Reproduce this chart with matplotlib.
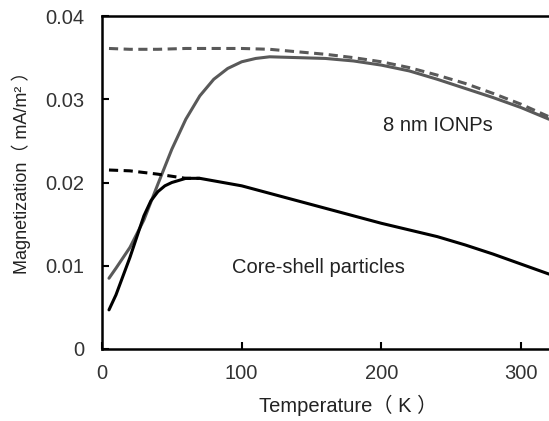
import matplotlib
matplotlib.use("Agg")
import matplotlib.pyplot as plt

plt.rcParams['font.family'] = ['Liberation Sans', 'Noto Sans CJK SC', 'DejaVu Sans']

# 8 nm IONPs, field cooled (dashed grey)
ionp_fc_T = [5, 20, 40, 60, 80, 100, 120, 140, 160, 180, 200, 220, 240, 260, 280, 300, 320]
ionp_fc_M = [0.0361, 0.0360, 0.0360, 0.0361, 0.0361, 0.0361, 0.0360, 0.0357, 0.0354, 0.0350,
             0.0345, 0.0338, 0.0329, 0.0319, 0.0307, 0.0294, 0.0279]
# 8 nm IONPs, zero field cooled (solid grey)
ionp_zfc_T = [5, 10, 20, 30, 40, 50, 60, 70, 80, 90, 100, 110, 120, 140, 160, 180, 200,
              220, 240, 260, 280, 300, 320]
ionp_zfc_M = [0.0085, 0.0097, 0.0122, 0.0155, 0.0198, 0.0240, 0.0276, 0.0304, 0.0324, 0.0337,
              0.0345, 0.0349, 0.0351, 0.0350, 0.0349, 0.0346, 0.0341, 0.0334, 0.0324, 0.0313,
              0.0302, 0.0290, 0.0276]
# Core-shell, field cooled (dashed black)
cs_fc_T = [5, 20, 40, 60, 70]
cs_fc_M = [0.0215, 0.0214, 0.0210, 0.0205, 0.0205]
# Core-shell, zero field cooled (solid black)
cs_zfc_T = [5, 10, 20, 30, 35, 40, 45, 50, 60, 70, 80, 100, 120, 140, 160, 180, 200, 220,
            240, 260, 280, 300, 320]
cs_zfc_M = [0.0047, 0.0065, 0.0110, 0.0160, 0.0178, 0.0189, 0.0196, 0.0200, 0.0205, 0.0205,
            0.0202, 0.0196, 0.0187, 0.0178, 0.0169, 0.0160, 0.0151, 0.0143, 0.0135, 0.0125,
            0.0114, 0.0102, 0.0090]

xticks = [0, 100, 200, 300]
yticks = [0, 0.01, 0.02, 0.03, 0.04]
ytick_labels = ["0", "0.01", "0.02", "0.03", "0.04"]

fig = plt.figure(figsize=(5.49, 4.21), dpi=100)
ax = fig.add_axes([102/549, 72/421, 1 - 102/549, 333/421])

grey = '#595959'
lw = 2.2
ax.plot(ionp_zfc_T, ionp_zfc_M, color=grey, lw=lw, solid_capstyle='round')
ax.plot(ionp_fc_T, ionp_fc_M, color=grey, lw=lw, linestyle=(0, (3, 1.8)))
ax.plot(cs_zfc_T, cs_zfc_M, color='black', lw=lw, solid_capstyle='round')
ax.plot(cs_fc_T, cs_fc_M, color='black', lw=lw, linestyle=(0, (3, 1.8)))

ax.set_xlim(0, 320)
ax.set_ylim(0, 0.04)
ax.set_xticks(xticks)
ax.set_xticklabels([str(t) for t in xticks])
ax.set_yticks(yticks)
ax.set_yticklabels(ytick_labels)
ax.tick_params(direction='in', length=5, width=1.5, labelsize=14.5, colors='black')
ax.tick_params(axis='y', pad=13)
ax.tick_params(axis='x', pad=11)
for lab in ax.get_xticklabels() + ax.get_yticklabels():
    lab.set_color('#333333')

for s in ['left', 'bottom', 'top']:
    ax.spines[s].set_linewidth(1.8)
ax.spines['right'].set_visible(False)

ax.text(201, 0.0268, "8 nm IONPs", fontsize=14.5, color='#222222', va='center', ha='left')
ax.text(93, 0.0098, "Core-shell particles", fontsize=14.5, color='#222222', va='center', ha='left')

fig.text(348/549, 1 - 405/421, "Temperature（ K ）", fontsize=14.5, color='#222222',
         ha='center', va='center')
fig.text(21/549, 1 - 168/421, "Magnetization（ mA/m² ）", fontsize=13, color='#222222',
         ha='center', va='center', rotation=90)

fig.savefig("out.png", dpi=100)
